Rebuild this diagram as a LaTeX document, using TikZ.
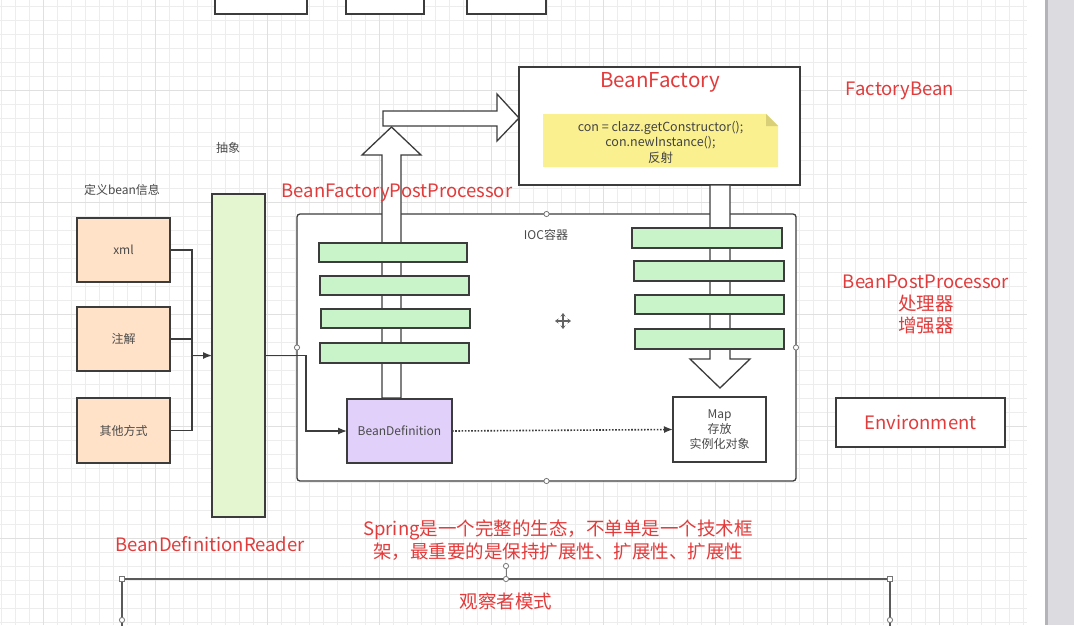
\documentclass[tikz,border=0pt]{standalone}
\usepackage{fontspec}
\setmainfont{Noto Sans CJK SC}
\usetikzlibrary{arrows.meta,calc}
\definecolor{linec}{HTML}{3C3C3C}
\definecolor{redt}{HTML}{E23B3B}
\definecolor{txtg}{HTML}{4A4A4A}
\definecolor{barg}{HTML}{C9F3C9}
\definecolor{readerg}{HTML}{E3F6D0}
\definecolor{peach}{HTML}{FFE2C8}
\definecolor{lav}{HTML}{E1D1FA}
\definecolor{notey}{HTML}{FAF090}
\definecolor{notef}{HTML}{D8CF78}
\definecolor{gridmin}{HTML}{EDEDED}
\definecolor{gridmaj}{HTML}{E0E0E0}
\definecolor{sidebar}{HTML}{DCDCE0}
\definecolor{sideline}{HTML}{B4B4B8}
\begin{document}
\begin{tikzpicture}[x=1pt,y=-1pt,
  box/.style={draw=linec, line width=1.3pt, inner sep=0pt, outer sep=0pt, text=txtg,
    font=\fontsize{12}{15}\selectfont, align=center},
  bar/.style={box, fill=barg},
  srcbox/.style={box, fill=peach, minimum width=93pt, minimum height=64pt},
  redlab/.style={text=redt, font=\fontsize{18.5}{22.5}\selectfont, inner sep=0pt, align=center},
  graylab/.style={text=txtg, font=\fontsize{12}{15}\selectfont, inner sep=0pt, align=center},
  hollow/.style={draw=linec, line width=1.3pt, fill=white, line join=miter},
  conn/.style={draw=linec, line width=1.3pt},
  tip/.style={-{Latex[length=9pt,width=7pt]}},
  handle/.style={draw=linec!70, fill=white, line width=0.8pt},
]
\useasboundingbox (0,0) rectangle (1074,625);
\clip (0,0) rectangle (1074,625);
\fill[white] (0,0) rectangle (1074,625);
% grid
\foreach \i in {0,...,73} {\draw[gridmin, line width=0.8pt] ({1+14*\i},0) -- ({1+14*\i},625);}
\foreach \j in {0,...,44} {\draw[gridmin, line width=0.8pt] (0,{6+14*\j}) -- (1027,{6+14*\j});}
\foreach \i in {0,...,8} {\draw[gridmaj, line width=0.9pt] ({43+112*\i},0) -- ({43+112*\i},625);}
\foreach \j in {0,...,4} {\draw[gridmaj, line width=0.9pt] (0,{90+112*\j}) -- (1027,{90+112*\j});}
\fill[white] (1027,0) rectangle (1045,625);
\fill[sidebar] (1045,0) rectangle (1074,625);
\fill[sideline] (1045,0) rectangle (1048,625);

% top boxes (cut off)
\draw[linec, line width=1.3pt, fill=white] (215,-5) rectangle (307,14);
\draw[linec, line width=1.3pt, fill=white] (346,-5) rectangle (424,14);
\draw[linec, line width=1.3pt, fill=white] (467,-5) rectangle (546,14);

% IOC container
\node[box, fill=white, rounded corners=3pt, minimum width=499pt, minimum height=267pt] (ioc) at (546.5,347.5) {};
\node[graylab] (ioclab) at (546,235) {IOC容器};

% BeanFactory
\node[box, fill=white, minimum width=281pt, minimum height=118pt] (bf) at (659.5,126) {};
\node[redlab, font=\fontsize{20.5}{24}\selectfont] (bftitle) at (660,82) {BeanFactory};
\fill[notey] (543,114) -- (766,114) -- (778,126) -- (778,167) -- (543,167) -- cycle;
\fill[notef] (766,114) -- (778,126) -- (766,126) -- cycle;
\node[graylab, font=\fontsize{12.5}{15.5}\selectfont, text=txtg!90!black] (note) at (660.5,142) {con = clazz.getConstructor();\\con.newInstance();\\反射};

% hollow arrows
\path[hollow] (382,398) -- (382,155) -- (362,155) -- (391.5,127) -- (421,155) -- (401,155) -- (401,398) -- cycle;
\path[hollow] (383,111) -- (497,111) -- (497,94) -- (519,118) -- (497,141) -- (497,126) -- (383,126) -- cycle;
\path[hollow] (710,185) -- (710,359) -- (690,359) -- (720,388) -- (750,359) -- (730,359) -- (730,185) -- cycle;

% green bars left
\node[bar, minimum width=148pt, minimum height=19pt] (l1) at (393,252.5) {};
\node[bar, minimum width=149pt, minimum height=19pt] (l2) at (394.5,285.5) {};
\node[bar, minimum width=149pt, minimum height=19pt] (l3) at (395.5,318.5) {};
\node[bar, minimum width=149pt, minimum height=20pt] (l4) at (394.5,353) {};
% green bars right
\node[bar, minimum width=150pt, minimum height=20pt] (r1) at (707,238) {};
\node[bar, minimum width=150pt, minimum height=20pt] (r2) at (709,271) {};
\node[bar, minimum width=149pt, minimum height=19pt] (r3) at (709.5,304.5) {};
\node[bar, minimum width=149pt, minimum height=20pt] (r4) at (709.5,339) {};

% BeanDefinition and Map
\node[box, fill=lav, minimum width=105pt, minimum height=64pt] (bd) at (399.5,431) {BeanDefinition};
\node[box, fill=white, minimum width=93pt, minimum height=65pt] (map) at (719.5,429.5) {Map\\存放\\实例化对象};
\draw[conn, tip, line width=1.6pt, dash pattern=on 1.6pt off 1.6pt] (bd.east) -- (map.west);

% handles of IOC container
\foreach \a in {north,south,east,west} {\draw[handle] (ioc.\a) circle (2.6pt);}

% move cursor
\draw[linec!80, line width=1.2pt, {Stealth[length=3.5pt,width=5pt]}-{Stealth[length=3.5pt,width=5pt]}] (555,321) -- (571,321);
\draw[linec!80, line width=1.2pt, {Stealth[length=3.5pt,width=5pt]}-{Stealth[length=3.5pt,width=5pt]}] (563,313) -- (563,329);

% left sources
\node[graylab] (deflab) at (122,190) {定义bean信息};
\node[graylab] (abslab) at (228,148) {抽象};
\node[srcbox] (xml) at (123.5,250) {xml};
\node[srcbox] (zj) at (123.5,339) {注解};
\node[srcbox, minimum height=65pt] (other) at (123.5,430.5) {其他方式};
\node[box, fill=readerg, minimum width=53pt, minimum height=323pt] (reader) at (238.5,355.5) {};
\coordinate (j) at (192,355.5);
\draw[conn] (xml.east) -| (j);
\draw[conn] (other.east) -| (j);
\draw[conn] (zj.east) -- (zj.east -| j);
\draw[conn, tip] (j) -- (reader.west);
\coordinate (k) at (306,355.5);
\draw[conn, tip] (reader.east) -- (k) |- (bd.west);

% red labels
\node[redlab] (bfpp) at (397,193) {BeanFactoryPostProcessor};
\node[redlab] (fb) at (900,91) {FactoryBean};
\node[redlab, font=\fontsize{18.5}{22}\selectfont] (bpp) at (926,305) {BeanPostProcessor\\处理器\\增强器};
\node[box, fill=white, minimum width=169pt, minimum height=49pt, text=redt, font=\fontsize{18.5}{22}\selectfont] (env) at (920.5,422.5) {Environment};
\node[redlab] (bdr) at (210,544) {BeanDefinitionReader};
\node[redlab, font=\fontsize{18.5}{23}\selectfont] (spring) at (558,540) {Spring是一个完整的生态，不单单是一个技术框\\架，最重要的是保持扩展性、扩展性、扩展性};

% bottom observer box (selected)
\coordinate (bl) at (122,579);
\coordinate (br) at (890,579);
\draw[conn, draw=linec!85] (122,640) -- (bl) -- (br) -- (890,640);
\coordinate (bm) at (506,579);
\coordinate (rot) at (506,566);
\draw[linec!70, line width=0.8pt] (bm) -- (rot);
\draw[handle] (rot) circle (2.6pt);
\draw[handle] (bm) circle (2.6pt);
\draw[handle] ($(bl)+(-2.6,-2.6)$) rectangle ++(5.2,5.2);
\draw[handle] ($(br)+(-2.6,-2.6)$) rectangle ++(5.2,5.2);
\node[redlab] (obs) at (506,601) {观察者模式};
\draw[handle] (122,620) circle (2.6pt);
\draw[handle] (890,620) circle (2.6pt);
\end{tikzpicture}
\end{document}
